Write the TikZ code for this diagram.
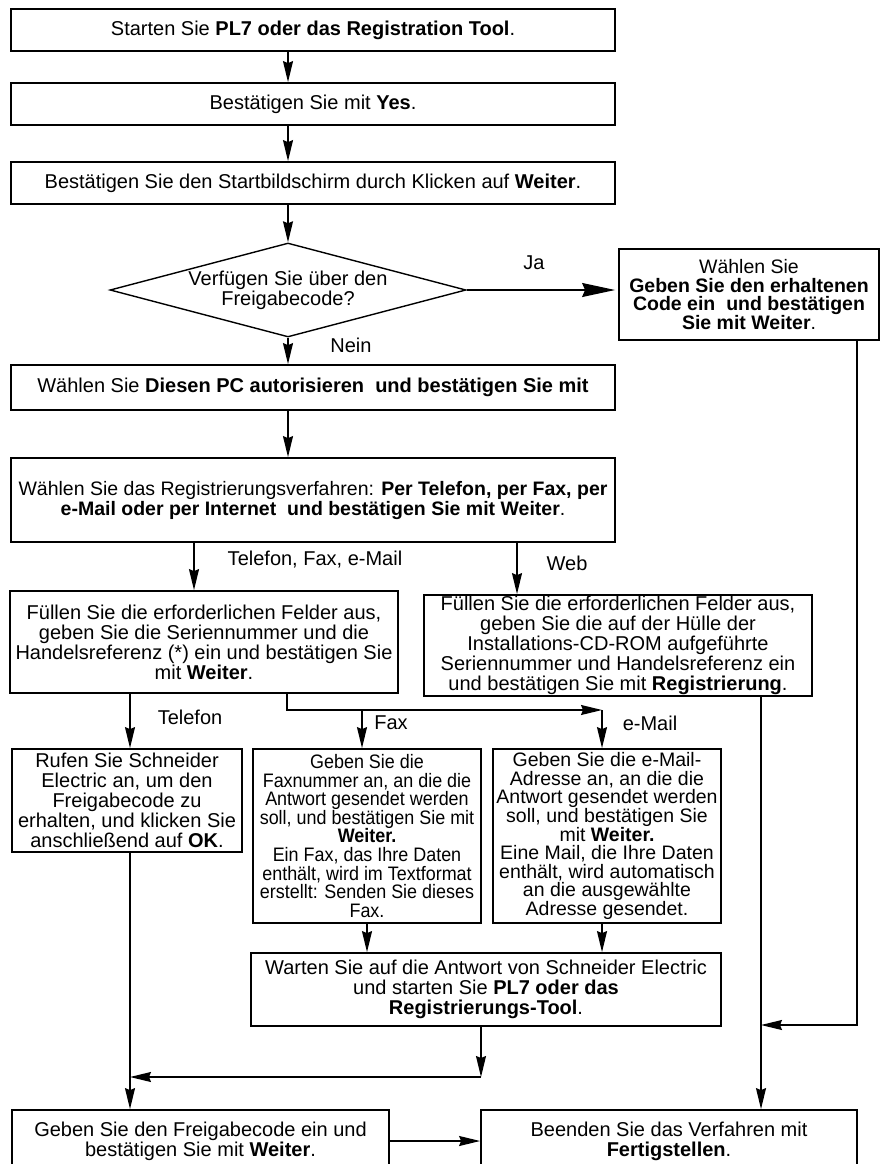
\documentclass[tikz,border=0pt]{standalone}
\usepackage{fontspec}
\setmainfont{Liberation Sans}
\newfontfamily\narrowsans[FakeStretch=0.92]{Liberation Sans}
\usetikzlibrary{arrows.meta,shapes.geometric}

\begin{document}
\begin{tikzpicture}[x=1pt,y=-1pt,>={Stealth[length=21pt,width=10pt,inset=2pt]},every node/.style={font=\fontsize{20}{20}\selectfont}]
    \tikzstyle{box}=[draw, rectangle, line width=1.8pt, align=center, inner sep=1pt]
    \tikzstyle{flow}=[->, line width=1.4pt]
    \useasboundingbox (0,0) rectangle (881,1164);
    \clip (0,0) rectangle (881,1164);
    \node[box, minimum width=604pt, minimum height=42pt] (start) at (313,30) {Starten Sie \textbf{PL7 oder das Registration Tool}.};
    \node[box, minimum width=604pt, minimum height=42pt] (yes) at (313,104) {Bestätigen Sie mit \textbf{Yes}.};
    \node[box, minimum width=604pt, minimum height=42pt] (welcome) at (313,183) {Bestätigen Sie den Startbildschirm durch Klicken auf \textbf{Weiter}.};
    \node[draw, diamond, aspect=3.8, line width=1.4pt, minimum width=356pt, minimum height=94pt, inner sep=0pt, align=center] (code) at (288,290) {Verfügen Sie über den\\Freigabecode?};
    \node[box, minimum width=260pt, minimum height=91pt, font=\fontsize{19.5}{18.5}\selectfont] (gotcode) at (749,294.5) {Wählen Sie\\\textbf{Geben Sie den erhaltenen}\\\textbf{Code ein~ und bestätigen}\\\textbf{Sie mit Weiter}.};
    \node[box, minimum width=604pt, minimum height=45pt] (authorize) at (313,387.5) {Wählen Sie \textbf{Diesen PC autorisieren~ und bestätigen Sie mit}};
    \node[box, minimum width=604pt, minimum height=84pt, font=\fontsize{19.5}{20}\selectfont] (method) at (313,500) {Wählen Sie das Registrierungsverfahren: \textbf{Per Telefon, per Fax, per}\\\textbf{e-Mail oder per Internet~ und bestätigen Sie mit Weiter}.};
    \node[box, minimum width=388pt, minimum height=102pt] (fill) at (204,642) {Füllen Sie die erforderlichen Felder aus,\\geben Sie die Seriennummer und die\\Handelsreferenz (*) ein und bestätigen Sie\\mit \textbf{Weiter}.};
    \node[box, minimum width=388pt, minimum height=101pt] (web) at (618,645.5) {Füllen Sie die erforderlichen Felder aus,\\geben Sie die auf der Hülle der\\Installations-CD-ROM aufgeführte\\Seriennummer und Handelsreferenz ein\\und bestätigen Sie mit \textbf{Registrierung}.};
    \node[box, minimum width=230pt, minimum height=103pt] (phone) at (127,800.5) {Rufen Sie Schneider\\Electric an, um den\\Freigabecode zu\\erhalten, und klicken Sie\\anschließend auf \textbf{OK}.};
    \node[box, minimum width=228pt, minimum height=174pt, font=\narrowsans\fontsize{19.5}{18.6}\selectfont] (fax) at (367,836) {Geben Sie die\\Faxnummer an, an die die\\Antwort gesendet werden\\soll, und bestätigen Sie mit\\\textbf{Weiter.}\\Ein Fax, das Ihre Daten\\enthält, wird im Textformat\\erstellt: Senden Sie dieses\\Fax.};
    \node[box, minimum width=228pt, minimum height=174pt, font=\fontsize{19.5}{18.6}\selectfont] (mail) at (607,836) {Geben Sie die e-Mail-\\Adresse an, an die die\\Antwort gesendet werden\\soll, und bestätigen Sie\\mit \textbf{Weiter.}\\Eine Mail, die Ihre Daten\\enthält, wird automatisch\\an die ausgewählte\\Adresse gesendet.};
    \node[box, minimum width=470pt, minimum height=73pt] (wait) at (486,989.5) {Warten Sie auf die Antwort von Schneider Electric\\und starten Sie \textbf{PL7 oder das}\\\textbf{Registrierungs-Tool}.};
    \node[box, minimum width=377pt, minimum height=62pt] (enter) at (200.5,1141) {Geben Sie den Freigabecode ein und\\bestätigen Sie mit \textbf{Weiter}.};
    \node[box, minimum width=376pt, minimum height=62pt] (finish) at (669,1141) {Beenden Sie das Verfahren mit\\\textbf{Fertigstellen}.};
    \node (lja) at (534,263) {Ja};
    \node (lnein) at (351,345) {Nein};
    \node (ltfe) at (315,560) {Telefon, Fax, e-Mail};
    \node (lweb) at (567,563) {Web};
    \node (ltel) at (190,717) {Telefon};
    \node (lfax) at (391,723) {Fax};
    \node (lmail) at (650,723) {e-Mail};
    \coordinate (mleft) at (194,0);
    \coordinate (mright) at (517,0);
    \coordinate (ftel) at (130,0);
    \coordinate (fsplit) at (287,710);
    \coordinate (fxbr) at (362,710);
    \coordinate (mlbr) at (602,710);
    \coordinate (wdown) at (481,1077);
    \coordinate (rjoin) at (761,1025);
    \coordinate (rside) at (857,1025);
    \draw[flow] (start.south -| code) -- (yes.north -| code);
    \draw[flow] (yes.south -| code) -- (welcome.north -| code);
    \draw[flow] (welcome.south -| code) -- (code.north);
    \draw[line width=1.4pt, -{Stealth[length=33pt,width=14pt,inset=3pt]}, shorten >=3pt] (code.east) -- (code.east -| gotcode.west);
    \draw[flow] (code.south) -- (authorize.north -| code);
    \draw[flow] (authorize.south -| code) -- (method.north -| code);
    \draw[flow] (method.south -| mleft) -- (fill.north -| mleft);
    \draw[flow] (method.south -| mright) -- (web.north -| mright);
    \draw[flow] (fill.south -| ftel) -- (phone.north -| ftel);
    \draw[flow] (fill.south -| fsplit) -- (fsplit) -- (mlbr);
    \draw[flow] (fxbr) -- (fax.north -| fxbr);
    \draw[flow] (mlbr) -- (mail.north -| mlbr);
    \draw[flow] (fax.south) -- (fax.south |- wait.north);
    \draw[flow] (mail.south -| mlbr) -- (wait.north -| mlbr);
    \draw[flow] (wait.south -| wdown) -- (wdown);
    \draw[flow] (wdown) -- (wdown -| ftel);
    \draw[flow] (phone.south -| ftel) -- (enter.north -| ftel);
    \draw[flow] (enter.east) -- (finish.west);
    \draw[flow] (web.south -| rjoin) -- (finish.north -| rjoin);
    \draw[flow] (gotcode.south -| rside) -- (rside) -- (rjoin);
\end{tikzpicture}
\end{document}
